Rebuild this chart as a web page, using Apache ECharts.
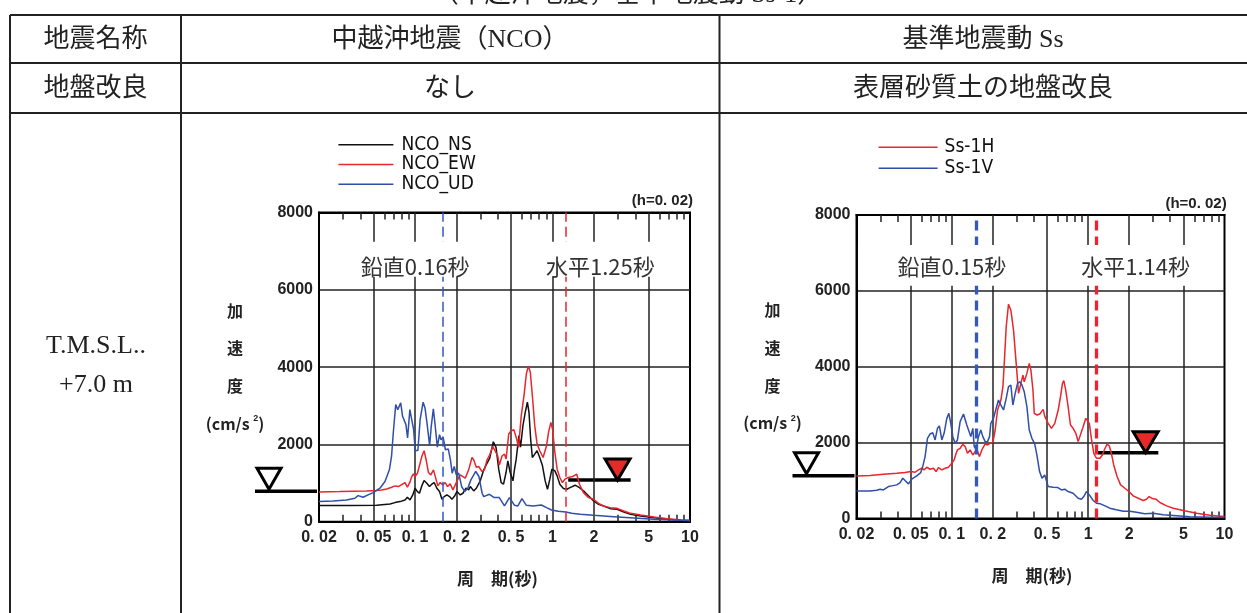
<!DOCTYPE html>
<html><head><meta charset="utf-8">
<script src="https://cdn.jsdelivr.net/npm/echarts@6/dist/echarts.min.js"></script>
<style>html,body{margin:0;padding:0;background:#fff}#c{width:1247px;height:613px}</style>
</head><body><div id="c"></div>
<script>
// ---------------- data ----------------
const TICK_VALUES = [0.02, 0.05, 0.1, 0.2, 0.5, 1, 2, 5, 10];
const TICK_LABELS = ['0. 02', '0. 05', '0. 1', '0. 2', '0. 5', '1', '2', '5', '10'];
const GRID_PERIODS = [0.05, 0.1, 0.2, 0.5, 1, 2, 5];
const MINOR_TICKS = [0.03, 0.04, 0.06, 0.07, 0.08, 0.09, 0.3, 0.4, 0.6, 0.7, 0.8, 0.9, 3, 4, 6, 7, 8, 9];

const NCO_NS = [[0.02,416],[0.0335,416],[0.0525,424],[0.0657,459],[0.0714,494],[0.0777,520],[0.0845,563],[0.0879,632],[0.0919,563],[0.0962,693],[0.1,866],[0.104,779],[0.1076,736],[0.1119,926],[0.1163,1065],[0.1217,996],[0.1273,909],[0.1323,970],[0.1377,1013],[0.144,866],[0.1506,779],[0.1568,580],[0.1629,649],[0.1704,693],[0.1782,649],[0.1853,580],[0.1927,649],[0.2016,779],[0.2132,693],[0.2229,736],[0.2344,866],[0.2453,823],[0.2522,909],[0.2668,797],[0.279,866],[0.2985,1065],[0.3158,1342],[0.334,1515],[0.3492,1645],[0.371,2069],[0.388,1922],[0.406,1359],[0.423,1013],[0.44,970],[0.459,1273],[0.473,1576],[0.492,1273],[0.515,1056],[0.529,1359],[0.544,1619],[0.569,2225],[0.585,1930],[0.609,2485],[0.633,2831],[0.656,3091],[0.674,2831],[0.693,2139],[0.713,1662],[0.742,1749],[0.772,1835],[0.807,1662],[0.845,1446],[0.884,1056],[0.919,840],[0.956,1100],[0.989,1359],[1.04,1316],[1.08,1186],[1.13,970],[1.2,857],[1.27,840],[1.34,883],[1.46,944],[1.57,883],[1.68,797],[1.83,667],[1.99,537],[2.16,450],[2.35,407],[2.63,338],[2.95,320],[3.3,251],[3.7,190],[4.37,147],[5.48,104],[6.87,61],[8.6,35],[10,28]];
const NCO_EW = [[0.02,771],[0.0283,779],[0.0443,797],[0.0525,805],[0.0571,823],[0.0621,848],[0.0676,892],[0.0714,926],[0.0756,909],[0.0799,961],[0.0845,1013],[0.0879,892],[0.0919,1030],[0.0946,1169],[0.0972,1238],[0.1,1169],[0.104,1255],[0.1076,1446],[0.1119,1688],[0.1163,1836],[0.1203,1602],[0.1251,1273],[0.1302,1212],[0.1361,1342],[0.1424,1082],[0.1464,926],[0.1523,1013],[0.1592,952],[0.1656,1013],[0.1723,909],[0.1802,978],[0.1885,823],[0.196,952],[0.2038,1082],[0.2132,1212],[0.2229,1169],[0.2318,1126],[0.2453,1342],[0.2594,1662],[0.2668,1602],[0.279,1411],[0.2902,1429],[0.307,1299],[0.3194,1342],[0.334,1602],[0.3492,1732],[0.367,1948],[0.377,1983],[0.399,1706],[0.41,1463],[0.43,1706],[0.447,1749],[0.459,1619],[0.48,2268],[0.5,2355],[0.523,2381],[0.544,2182],[0.566,1922],[0.592,2745],[0.62,3264],[0.645,3827],[0.667,4026],[0.689,3870],[0.713,3264],[0.742,2485],[0.772,2009],[0.807,1835],[0.854,1662],[0.904,1965],[0.935,2312],[0.972,2571],[1.0,2398],[1.04,1792],[1.08,1359],[1.13,1143],[1.18,1013],[1.23,1100],[1.3,1143],[1.4,1169],[1.5,1229],[1.57,970],[1.68,753],[1.83,623],[1.99,580],[2.16,476],[2.35,407],[2.63,364],[2.95,346],[3.3,277],[3.7,216],[4.37,173],[5.48,121],[6.87,78],[8.6,43],[10,30]];
const NCO_UD = [[0.02,520],[0.0253,537],[0.0317,563],[0.0365,606],[0.0385,675],[0.0419,632],[0.0455,693],[0.0496,753],[0.0555,866],[0.0604,1039],[0.065,1342],[0.0674,1688],[0.0694,2294],[0.0723,3030],[0.0748,2900],[0.0786,3074],[0.0811,2727],[0.0834,2770],[0.0858,2511],[0.0882,2165],[0.0916,2900],[0.0946,2857],[0.0976,2381],[0.1003,1844],[0.1048,1844],[0.1088,2641],[0.1144,3091],[0.1181,2944],[0.1225,2511],[0.1276,1965],[0.1311,2467],[0.1358,2918],[0.1394,2554],[0.1451,1931],[0.1506,2251],[0.1544,2121],[0.16,2190],[0.1663,1861],[0.1745,1879],[0.1808,1602],[0.1862,1255],[0.1927,1429],[0.1995,1212],[0.2075,1255],[0.2183,909],[0.2298,779],[0.2418,866],[0.2546,1082],[0.2764,1299],[0.2915,1169],[0.3074,736],[0.3157,649],[0.347,710],[0.377,623],[0.41,623],[0.447,407],[0.486,623],[0.529,424],[0.56,407],[0.599,597],[0.645,424],[0.721,407],[0.83,433],[0.904,364],[0.983,303],[1.1,268],[1.25,251],[1.38,216],[1.59,190],[1.99,164],[2.79,130],[3.91,95],[5.47,61],[8.6,35],[10,28]];

const SS1H = [[0.02,1123],[0.0251,1132],[0.0315,1167],[0.0395,1193],[0.0454,1210],[0.05,1237],[0.0538,1219],[0.0569,1281],[0.0602,1325],[0.0626,1281],[0.0655,1351],[0.0693,1298],[0.0733,1325],[0.0767,1237],[0.0798,1342],[0.0845,1281],[0.0894,1325],[0.0945,1351],[0.1,1456],[0.104,1544],[0.1076,1719],[0.11,1807],[0.1151,1851],[0.1204,1956],[0.1253,1895],[0.1303,1719],[0.1363,1807],[0.1426,1675],[0.1526,1825],[0.1596,1631],[0.166,1807],[0.1757,1965],[0.1828,1939],[0.1911,1982],[0.2,2000],[0.208,2333],[0.2165,2860],[0.2291,3123],[0.2371,3474],[0.244,4263],[0.2506,5053],[0.2605,5649],[0.2711,5491],[0.2836,4965],[0.2966,4088],[0.3087,3298],[0.3212,3561],[0.3323,3781],[0.3398,3605],[0.3554,3825],[0.3698,4088],[0.3803,3912],[0.3936,3386],[0.4026,2772],[0.422,2728],[0.442,2754],[0.455,2816],[0.468,2877],[0.48,2700],[0.509,2509],[0.538,2377],[0.569,2509],[0.603,2860],[0.627,3211],[0.648,3561],[0.663,3632],[0.685,3386],[0.713,2947],[0.742,2465],[0.776,2377],[0.812,2246],[0.845,2026],[0.869,2158],[0.919,2421],[0.961,2640],[0.983,2684],[1.02,2509],[1.06,2070],[1.1,1719],[1.15,1588],[1.22,1588],[1.27,1675],[1.32,1825],[1.38,1965],[1.43,1912],[1.48,1719],[1.54,1412],[1.63,1105],[1.73,886],[1.86,798],[1.99,711],[2.14,596],[2.33,535],[2.53,474],[2.68,509],[2.8,579],[2.92,535],[3.14,509],[3.36,421],[3.76,333],[4.21,272],[4.99,211],[6.25,140],[7.81,88],[9.79,53],[10,50]];
const SS1V = [[0.02,728],[0.0251,728],[0.0281,746],[0.0298,772],[0.0315,754],[0.0343,842],[0.0363,860],[0.0395,886],[0.0418,947],[0.0437,1061],[0.0454,1000],[0.0481,912],[0.0508,1035],[0.0553,1123],[0.0592,1211],[0.0612,1368],[0.0637,1632],[0.0663,2114],[0.0693,2228],[0.0725,2263],[0.0754,2070],[0.0785,2377],[0.0811,2439],[0.0845,2070],[0.0878,2246],[0.0919,2640],[0.0951,2772],[0.0983,2509],[0.1017,2158],[0.1058,1982],[0.11,2070],[0.1151,2553],[0.1218,2754],[0.1253,2728],[0.1288,2465],[0.134,2289],[0.1379,2158],[0.1426,2377],[0.146,1895],[0.1508,1825],[0.1569,2158],[0.1632,2333],[0.1689,2158],[0.1757,2026],[0.1828,2026],[0.1891,2158],[0.1933,2509],[0.2022,2640],[0.2115,2904],[0.2199,3123],[0.2291,2991],[0.2395,2860],[0.2506,3167],[0.2605,3474],[0.2711,3518],[0.2805,2991],[0.2917,3298],[0.3034,3561],[0.3141,3605],[0.3267,3518],[0.3398,3342],[0.3554,2947],[0.3698,2333],[0.3867,2114],[0.4046,1982],[0.4208,1675],[0.4402,1237],[0.459,1061],[0.48,1149],[0.509,842],[0.553,825],[0.6,816],[0.637,754],[0.674,772],[0.713,711],[0.776,667],[0.845,535],[0.893,509],[0.929,579],[0.972,711],[1.02,623],[1.09,474],[1.15,404],[1.23,386],[1.33,333],[1.44,272],[1.61,228],[1.81,193],[2.02,193],[2.26,167],[2.6,123],[3.0,140],[3.55,96],[4.45,70],[5.58,44],[7.81,35],[10,26]];

const V_PERIOD = [0.16, 0.15];       // 鉛直 natural period (s)
const H_PERIOD = [1.25, 1.14];       // 水平 natural period (s)
const OPEN_MARK_ACC = [790, 1130];   // ▽ level
const RED_MARK_ACC = [1080, 1735];   // ▼ level
const RED_MARK_T = [[1.30, 2.97, 3.70], [1.18, 2.64, 3.27]];

// ---------------- layout / style ----------------
const RED = '#e8262d', BLUE = '#2f4fa8', BLACK = '#111';
const F_NUM = "'Liberation Sans', Arial, sans-serif";
const F_NARROW = "'Liberation Sans Narrow','DejaVu Sans Condensed','Liberation Sans',sans-serif";
const F_JP = "'Noto Sans CJK JP', sans-serif";
const F_TABLE = "'Liberation Serif','Noto Sans CJK JP', serif";
const GRIDS = [
  {left: 319, top: 212.5, width: 371, height: 309.2, band: [6339, 7245], xNamePad: 14},
  {left: 856.5, top: 215, width: 368, height: 303.5, band: [6136, 7209], xNamePad: 17}
];

function tickLabel(v) {
  let best = 0, bd = Infinity;
  TICK_VALUES.forEach((t, i) => { const d = Math.abs(Math.log10(v) - Math.log10(t)); if (d < bd) { bd = d; best = i; } });
  return TICK_LABELS[best];
}

const grid = [], xAxis = [], yAxis = [], series = [];
GRIDS.forEach((g, gi) => {
  grid.push({left: g.left, top: g.top, width: g.width, height: g.height, show: true,
    borderColor: '#000', borderWidth: 2, backgroundColor: 'rgba(0,0,0,0)', containLabel: false, outerBoundsMode: 'none'});
  xAxis.push({type: 'log', logBase: 10, gridIndex: gi, position: 'bottom', min: 0.02, max: 10,
    axisLine: {show: true, onZero: false, lineStyle: {color: '#000', width: 2}},
    axisTick: {show: true, inside: true, length: 7, customValues: MINOR_TICKS, lineStyle: {color: '#222', width: 1.5}},
    minorTick: {show: false},
    axisLabel: {show: true, customValues: TICK_VALUES, formatter: tickLabel, fontSize: 16, fontWeight: 'bold',
      color: '#222', fontFamily: F_NUM, margin: 8},
    splitLine: {show: false},
    name: '周　期(秒)', nameLocation: 'middle', nameGap: 57,
    nameTextStyle: {fontSize: 17, fontWeight: 'bold', fontFamily: F_JP, color: '#222', verticalAlign: 'middle', padding: [0, g.xNamePad, 0, 0]}
  });
  xAxis.push({type: 'log', logBase: 10, gridIndex: gi, position: 'top', min: 0.02, max: 10,
    axisLine: {show: true, onZero: false, lineStyle: {color: '#000', width: 2}},
    axisTick: {show: true, inside: true, length: 7, customValues: MINOR_TICKS, lineStyle: {color: '#222', width: 1.5}},
    minorTick: {show: false}, axisLabel: {show: false}, splitLine: {show: false}});
  yAxis.push({type: 'value', gridIndex: gi, min: 0, max: 8000, interval: 2000,
    axisLine: {show: true, onZero: false, lineStyle: {color: '#000', width: 2}},
    axisTick: {show: false},
    axisLabel: {fontSize: 16, fontWeight: 'bold', color: '#222', fontFamily: F_NUM, margin: 6, formatter: v => String(v)},
    splitLine: {show: true, lineStyle: {color: '#222', width: 1.5}},
    name: '加\n速\n度\n(cm/s {sup|2})', nameLocation: 'middle', nameRotate: 0, nameGap: 84,
    nameTextStyle: {fontSize: 16, fontWeight: 'bold', fontFamily: F_JP, color: '#222', align: 'center',
      verticalAlign: 'middle', lineHeight: 37.7,
      rich: {sup: {fontSize: 9, fontWeight: 'bold', fontFamily: F_NUM, color: '#222', verticalAlign: 'middle', lineHeight: 10, padding: [0, 0, 10, 0]}}}
  });
  const xi = gi * 2, yi = gi;
  // vertical grid lines
  series.push({type: 'line', data: [], xAxisIndex: xi, yAxisIndex: yi, silent: true,
    markLine: {silent: true, symbol: 'none', z: 1, animation: false, label: {show: false},
      lineStyle: {type: 'solid', color: '#222', width: 1.5}, emphasis: {disabled: true},
      data: GRID_PERIODS.map(v => ({xAxis: v}))}});
  // dashed natural-period lines
  const dashW = gi === 0 ? 1.5 : 3.3, dash = gi === 0 ? [10, 5] : [10, 6];
  series.push({type: 'line', data: [], xAxisIndex: xi, yAxisIndex: yi, silent: true,
    markLine: {silent: true, symbol: 'none', z: 5, animation: false, label: {show: false}, emphasis: {disabled: true},
      data: [{xAxis: V_PERIOD[gi], lineStyle: {color: '#3558c0', type: dash, width: dashW}},
             {xAxis: H_PERIOD[gi], lineStyle: {color: RED, type: dash, width: dashW}}]}});
  // label band
  series.push({type: 'line', data: [], xAxisIndex: xi, yAxisIndex: yi, silent: true,
    markArea: {silent: true, z: 6, animation: false, itemStyle: {color: '#fff', opacity: 1, borderWidth: 0},
      emphasis: {disabled: true},
      label: {show: true, position: 'inside', formatter: '{b}', color: '#333', fontSize: 22, fontFamily: F_JP, offset: [0, gi === 0 ? 7 : 1]},
      data: [[{xAxis: 0.0205, yAxis: g.band[0], name: '鉛直' + V_PERIOD[gi] + '秒'}, {xAxis: 0.49, yAxis: g.band[1]}],
             [{xAxis: 0.51, yAxis: g.band[0], name: '水平' + H_PERIOD[gi] + '秒'}, {xAxis: 9.75, yAxis: g.band[1]}]]}});
});

function curve(name, data, color, gi) {
  return {type: 'line', name, data, xAxisIndex: gi * 2, yAxisIndex: gi, showSymbol: false, symbol: 'none',
    lineStyle: {color, width: 1.5}, itemStyle: {color}, z: 2, animation: false, silent: true};
}
series.push(curve('NCO_NS', NCO_NS, BLACK, 0));
series.push(curve('NCO_EW', NCO_EW, RED, 0));
series.push(curve('NCO_UD', NCO_UD, BLUE, 0));
series.push(curve('Ss-1H', SS1H, RED, 1));
series.push(curve('Ss-1V', SS1V, BLUE, 1));

const legendText = {fontSize: 19, lineHeight: 18, color: '#111', fontFamily: F_NARROW};
const option = {
  backgroundColor: '#fff',
  animation: false,
  grid, xAxis, yAxis, series,
  legend: [
    {data: ['NCO_NS', 'NCO_EW', 'NCO_UD'], orient: 'vertical', left: 338.4, top: 135.3, padding: 0,
     itemWidth: 55, itemHeight: 1.6, itemGap: 0.7, icon: 'rect', selectedMode: false,
     textStyle: Object.assign({}, legendText, {padding: [0, 0, 0, 3]})},
    {data: ['Ss-1H', 'Ss-1V'], orient: 'vertical', left: 878.6, top: 137.7, padding: 0,
     itemWidth: 59, itemHeight: 1.6, itemGap: 2, icon: 'rect', selectedMode: false,
     textStyle: Object.assign({}, legendText, {padding: [0, 0, 0, 2]})}
  ],
  title: [
    {text: '(h=0. 02)', right: 554, top: 193, padding: 0, textStyle: {fontSize: 15, fontWeight: 'bold', color: '#222', fontFamily: F_NUM}},
    {text: '(h=0. 02)', right: 20.3, top: 196, padding: 0, textStyle: {fontSize: 15, fontWeight: 'bold', color: '#222', fontFamily: F_NUM}}
  ]
};

const chart = echarts.init(document.getElementById('c'), null, {renderer: 'canvas', width: 1247, height: 613});
chart.setOption(option);

// ---------------- table + markers (graphic) ----------------
const G = [];
function hline(x1, x2, y, w, c) { G.push({type: 'line', shape: {x1, y1: y, x2, y2: y}, style: {stroke: c || '#222', lineWidth: w || 2}, silent: true}); }
function vline(x, y1, y2) { G.push({type: 'line', shape: {x1: x, y1, x2: x, y2}, style: {stroke: '#222', lineWidth: 2}, silent: true}); }
function txt(text, x, y, size, family, extra) {
  G.push(Object.assign({type: 'text', x, y, silent: true,
    style: {text, fontSize: size, fontFamily: family, fill: '#222', align: 'center', verticalAlign: 'middle'}}, extra || {}));
}
// table grid
[15, 63, 113].forEach(y => hline(10, 1247, y));
[10, 181, 719.5].forEach(x => vline(x, 15, 613));
// clipped caption at top
txt('（中越沖地震，基準地震動 Ss-1）', 628, -5, 26, F_TABLE);
// cell texts
txt('地震名称', 95.5, 40, 26, F_TABLE);
txt('地盤改良', 95.5, 89, 26, F_TABLE);
txt('中越沖地震（NCO）', 450, 40, 26, F_TABLE);
txt('基準地震動 Ss', 983, 40, 26, F_TABLE);
txt('なし', 450, 89, 26, F_TABLE);
txt('表層砂質土の地盤改良', 983, 89, 26, F_TABLE);
txt('T.M.S.L..', 96, 346, 26, F_TABLE);
txt('+7.0 m', 96, 385, 26, F_TABLE);

// markers
GRIDS.forEach((g, gi) => {
  const yOpen = chart.convertToPixel({gridIndex: gi}, [0.02, OPEN_MARK_ACC[gi]])[1];
  const xl = g.left;
  hline(xl - 64, xl - 2, yOpen, 3.5, '#000');
  const cx = xl - 50;
  G.push({type: 'polygon', silent: true, shape: {points: [[cx - 12, yOpen - 23], [cx + 12, yOpen - 23], [cx, yOpen - 2]]},
    style: {fill: '#fff', stroke: '#000', lineWidth: 3, lineJoin: 'miter'}});
  const t = RED_MARK_T[gi];
  const p1 = chart.convertToPixel({gridIndex: gi}, [t[0], RED_MARK_ACC[gi]]);
  const pc = chart.convertToPixel({gridIndex: gi}, [t[1], RED_MARK_ACC[gi]]);
  const p2 = chart.convertToPixel({gridIndex: gi}, [t[2], RED_MARK_ACC[gi]]);
  hline(p1[0], p2[0], p1[1], 3.5, '#000');
  G.push({type: 'polygon', silent: true, z: 10, shape: {points: [[pc[0] - 12.5, pc[1] - 21], [pc[0] + 12.5, pc[1] - 21], [pc[0], pc[1]]]},
    style: {fill: '#e62a2a', stroke: '#000', lineWidth: 3, lineJoin: 'miter'}});
});
chart.setOption({graphic: {elements: G}});
</script>
</body></html>
